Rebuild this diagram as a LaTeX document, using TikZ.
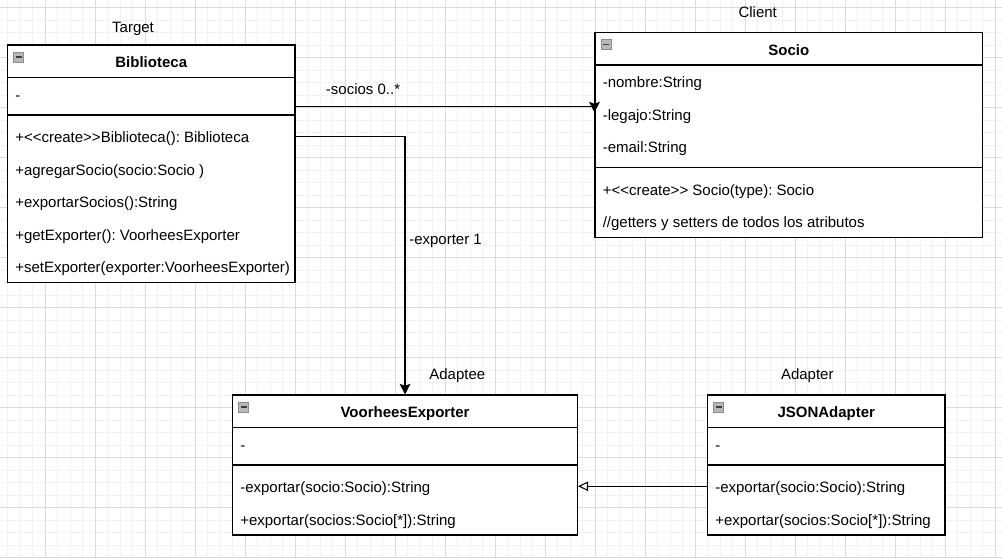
\documentclass[tikz,border=0pt]{standalone}
\usepackage{fontspec}
\setmainfont{Liberation Sans}
\usetikzlibrary{arrows.meta,fit}

\definecolor{gridminor}{gray}{0.95}
\definecolor{gridmajor}{gray}{0.86}

\newcommand{\stereo}[1]{<\kern0pt<#1>\kern0pt>}

\tikzset{
  classbox/.style={draw, line width=0.8pt, inner sep=0pt, fill=white},
  classline/.style={line width=0.8pt},
  headtext/.style={font=\fontsize{11.25}{13}\selectfont\bfseries\frenchspacing, anchor=base, yshift=-5pt, inner sep=0pt},
  rowtext/.style={font=\fontsize{11.25}{13}\selectfont\frenchspacing, anchor=base west, yshift=-4.9pt, inner sep=0pt},
  rolelabel/.style={font=\fontsize{11.25}{13}\selectfont\frenchspacing, anchor=base, inner sep=0pt},
  minusicon/.style={draw=black!45, fill=black!28, line width=0.5pt, minimum size=7.5pt, inner sep=0pt,
    path picture={\draw[black!75, line width=1.2pt] ([xshift=1.5pt]path picture bounding box.west) -- ([xshift=-1.5pt]path picture bounding box.east);}},
  assoc/.style={line width=0.8pt, -{Stealth[length=8pt, width=8pt, inset=1.5pt]}},
  realize/.style={line width=0.8pt, -{Triangle[open, length=7.5pt, width=7pt, fill=white]}}
}

\begin{document}
\begin{tikzpicture}[x=0.75pt, y=-0.75pt]
\useasboundingbox (0,0) rectangle (1002,557);
\fill[white] (0,0) rectangle (1002,557);

% grid
\foreach \i in {1,...,80} \draw[gridminor, line width=0.75pt] ({-5+12.5*\i},0) -- ++(0,557);
\foreach \j in {0,...,44} \draw[gridminor, line width=0.75pt] (0,{7.5+12.5*\j}) -- ++(1002,0);
\foreach \i in {1,...,20} \draw[gridmajor, line width=0.75pt] ({-5+50*\i},0) -- ++(0,557);
\foreach \j in {0,...,11} \draw[gridmajor, line width=0.75pt] (0,{7.5+50*\j}) -- ++(1002,0);

% Biblioteca
\node[classbox, fit={(7.5,45) (295,282.5)}] (biblioteca) {};
\draw[classline] (7.5,77.5) -- (295,77.5);
\draw[classline] (7.5,115) -- (295,115);
\node[minusicon] (bibicon) at (18.5,57) {};
\node[headtext] (bibhead) at (151.25,61.25) {Biblioteca};
\node[rowtext] (bibattr) at (15,93.75) {-};
\node[rowtext] (bibcreate) at (15,136.25) {+\stereo{create}Biblioteca(): Biblioteca};
\node[rowtext] (bibagregar) at (15,168.75) {+agregarSocio(socio:Socio )};
\node[rowtext] (bibexportar) at (15,201.25) {+exportarSocios():String};
\node[rowtext] (bibget) at (15,233.75) {+getExporter(): VoorheesExporter};
\node[rowtext] (bibset) at (15,266.25) {+setExporter(exporter:VoorheesExporter)};
\node[rolelabel] (target) at (133,32.3) {Target};

% Socio
\node[classbox, fit={(595,32.5) (982.5,237.5)}] (socio) {};
\draw[classline] (595,65) -- (982.5,65);
\draw[classline] (595,167.5) -- (982.5,167.5);
\node[minusicon] (socicon) at (606,44.5) {};
\node[headtext] (sochead) at (788.75,48.75) {Socio};
\node[rowtext] (socnombre) at (602.5,81.25) {-nombre:String};
\node[rowtext] (soclegajo) at (602.5,113.75) {-legajo:String};
\node[rowtext] (socemail) at (602.5,146.25) {-email:String};
\node[rowtext] (soccreate) at (602.5,188.75) {+\stereo{create} Socio(type): Socio};
\node[rowtext] (socgetset) at (602.5,221.25) {//getters y setters de todos los atributos};
\node[rolelabel] (client) at (757.7,17.3) {Client};

% VoorheesExporter
\node[classbox, fit={(232.5,395) (577.5,535)}] (voorhees) {};
\draw[classline] (232.5,427.5) -- (577.5,427.5);
\draw[classline] (232.5,465) -- (577.5,465);
\node[minusicon] (vooicon) at (243.8,407) {};
\node[headtext] (voohead) at (405,411.25) {VoorheesExporter};
\node[rowtext] (vooattr) at (240,443.75) {-};
\node[rowtext] (vooone) at (240,486.25) {-exportar(socio:Socio):String};
\node[rowtext] (voomany) at (240,518.75) {+exportar(socios:Socio[*]):String};
\node[rolelabel] (adaptee) at (457.3,379.3) {Adaptee};

% JSONAdapter
\node[classbox, fit={(707.5,395) (945,535)}] (jsonadapter) {};
\draw[classline] (707.5,427.5) -- (945,427.5);
\draw[classline] (707.5,465) -- (945,465);
\node[minusicon] (jsonicon) at (718.8,407) {};
\node[headtext] (jsonhead) at (826.25,411.25) {JSONAdapter};
\node[rowtext] (jsonattr) at (715,443.75) {-};
\node[rowtext] (jsonone) at (715,486.25) {-exportar(socio:Socio):String};
\node[rowtext] (jsonmany) at (715,518.75) {+exportar(socios:Socio[*]):String};
\node[rolelabel] (adapter) at (807.3,379.3) {Adapter};

% connectors
\draw[assoc] (biblioteca.east |- 0,106.25) -- (socio.west |- 0,106.25) -- (socio.west |- 0,112.5);
\node[rolelabel, anchor=base west] (socioslabel) at (325.7,94.3) {-socios 0..*};
\draw[assoc] (biblioteca.east |- 0,136.25) -| (voorhees.north);
\node[rolelabel, anchor=base west] (exporterlabel) at (409,244) {-exporter 1};
\draw[realize] (jsonadapter.west |- 0,486.25) -- (voorhees.east |- 0,486.25);
\end{tikzpicture}
\end{document}
